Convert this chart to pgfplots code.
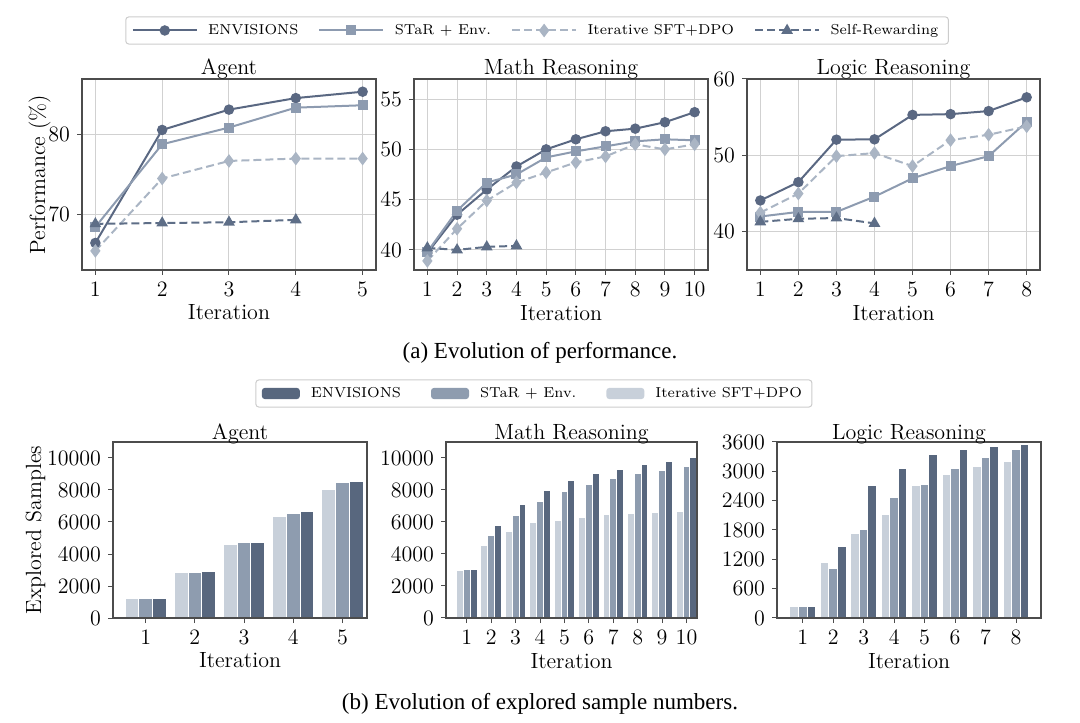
\documentclass[border=0pt]{standalone}
\usepackage{pgfplots}
\pgfplotsset{compat=1.18}
\usepackage{fontspec}
\newfontfamily\capfont{Liberation Serif}

\definecolor{cEnv}{HTML}{5A6882}
\definecolor{cStar}{HTML}{8D9BB0}
\definecolor{cSft}{HTML}{AAB5C4}
\definecolor{cSelf}{HTML}{5E6E87}
\definecolor{bEnv}{HTML}{58677E}
\definecolor{bStar}{HTML}{8E9CAF}
\definecolor{bSft}{HTML}{C8D0DA}

\pgfplotsset{
  common/.style={
    scale only axis, anchor=south west,
    axis line style={draw=black!70, line width=0.6pt},
    tick align=outside, xtick pos=left, ytick pos=left,
    major tick length=2.5pt,
    tick style={draw=black!70, line width=0.5pt},
    xlabel=Iteration,
    font=\fontsize{11}{13}\selectfont,
    tick label style={font=\fontsize{11}{13}\selectfont},
    title style={font=\fontsize{11}{13}\selectfont, yshift=-9.5pt},
    /pgf/number format/assume math mode=true,
    /pgf/number format/1000 sep={},
    scaled y ticks=false,
    xlabel style={yshift=3pt},
    ylabel style={yshift=-2pt},
  },
  topax/.style={common, grid=major,
    major grid style={draw=black!18, line width=0.5pt}},
  barax/.style={common, ymin=0, axis on top, title style={yshift=-1pt}},
  env/.style={color=cEnv, line width=1pt, mark=*, mark size=2.1pt, mark options={solid}},
  star/.style={color=cStar, line width=1pt, mark=square*, mark size=2pt, mark options={solid}},
  sft/.style={color=cSft, line width=1pt, dash pattern=on 4pt off 2pt, mark=diamond*, mark size=2.6pt, mark options={solid}},
  self/.style={color=cSelf, line width=1pt, dash pattern=on 4pt off 2pt, mark=triangle*, mark size=2.4pt, mark options={solid}},
  lgd/.style={
    legend cell align=left,
    legend style={draw=black!20, rounded corners=1.5pt, line width=0.5pt,
      font=\fontsize{7.2}{9}\selectfont, anchor=center,
      inner xsep=3pt, inner ysep=1.5pt},
  },
  linelegend/.style={legend image code/.code={%
    \draw[mark repeat=2, mark phase=2, ##1] plot coordinates {(0pt,0pt) (16pt,0pt) (32pt,0pt)};}},
  barlegend/.style={legend image code/.code={%
    \fill[##1, draw=none] (0pt,-2.8pt) rectangle (19pt,2.8pt);}},
  benv/.style={ybar, bar width=0.28, bar shift=0.28, fill=bEnv, draw=white, line width=0.5pt},
  bstar/.style={ybar, bar width=0.28, bar shift=0, fill=bStar, draw=white, line width=0.5pt},
  bsft/.style={ybar, bar width=0.28, bar shift=-0.28, fill=bSft, draw=white, line width=0.5pt},
}

\begin{document}
\begin{tikzpicture}
\path[use as bounding box] (0,0) rectangle (540pt,361pt);

% ---------------- Top row ----------------
\begin{axis}[topax, lgd, linelegend, at={(41pt,226pt)}, width=147pt, height=95.5pt,
  title=Agent, ylabel={Performance (\%)}, ylabel style={yshift=-6pt},
  xmin=0.8, xmax=5.2, ymin=63, ymax=87, xtick={1,...,5}, ytick={70,80},
  legend columns=4, legend style={at={(1.548,1.254)},
    /tikz/every odd column/.append style={column sep=3.2pt},
    /tikz/every even column/.append style={column sep=8pt}}]
\addplot[env] coordinates {(1,66.4) (2,80.6) (3,83.15) (4,84.6) (5,85.4)};
\addlegendentry{ENVISIONS}
\addplot[star] coordinates {(1,68.4) (2,78.8) (3,80.9) (4,83.4) (5,83.7)};
\addlegendentry{STaR + Env.}
\addplot[sft] coordinates {(1,65.4) (2,74.5) (3,76.7) (4,77.0) (5,77.0)};
\addlegendentry{Iterative SFT+DPO}
\addplot[self] coordinates {(1,68.8) (2,68.9) (3,69.0) (4,69.3)};
\addlegendentry{Self-Rewarding}
\end{axis}

\begin{axis}[topax, at={(207pt,226pt)}, width=147pt, height=95.5pt,
  title=Math Reasoning,
  xmin=0.55, xmax=10.45, ymin=38, ymax=57, xtick={1,...,10}, ytick={40,45,50,55}]
\addplot[env] coordinates {(1,39.7) (2,43.5) (3,46.0) (4,48.3) (5,50.0) (6,51.0) (7,51.8) (8,52.06) (9,52.7) (10,53.7)};
\addplot[star] coordinates {(1,39.8) (2,43.9) (3,46.7) (4,47.5) (5,49.2) (6,49.8) (7,50.3) (8,50.8) (9,51.0) (10,50.9)};
\addplot[sft] coordinates {(1,38.9) (2,42.1) (3,44.9) (4,46.7) (5,47.7) (6,48.7) (7,49.3) (8,50.5) (9,50.0) (10,50.5)};
\addplot[self] coordinates {(1,40.2) (2,40.0) (3,40.3) (4,40.4)};
\end{axis}

\begin{axis}[topax, at={(373.5pt,226pt)}, width=146.5pt, height=95.5pt,
  title=Logic Reasoning,
  xmin=0.65, xmax=8.35, ymin=35, ymax=60, xtick={1,...,8}, ytick={40,50,60}]
\addplot[env] coordinates {(1,44.1) (2,46.5) (3,52.06) (4,52.1) (5,55.3) (6,55.4) (7,55.8) (8,57.6)};
\addplot[star] coordinates {(1,42.0) (2,42.6) (3,42.6) (4,44.6) (5,47.0) (6,48.6) (7,49.9) (8,54.4)};
\addplot[sft] coordinates {(1,42.5) (2,45.0) (3,49.9) (4,50.3) (5,48.6) (6,52.0) (7,52.7) (8,53.8)};
\addplot[self] coordinates {(1,41.3) (2,41.7) (3,41.8) (4,41.1)};
\end{axis}

\node[font=\capfont\fontsize{11.5}{13}\selectfont] at (270pt,184.5pt) {(a) Evolution of performance.};

% ---------------- Bottom row ----------------
\begin{axis}[barax, lgd, barlegend, at={(56.5pt,52pt)}, width=127pt, height=88pt,
  title=Agent, ylabel={Explored Samples}, ylabel style={yshift=-4pt},
  xmin=0.335, xmax=5.5, ymax=11000, xtick={1,...,5}, ytick={0,2000,...,10000},
  legend columns=3, legend style={at={(1.657,1.2756)},
    /tikz/every odd column/.append style={column sep=3.5pt},
    /tikz/every even column/.append style={column sep=13pt}}]
\addplot[benv] coordinates {(1,1250) (2,2920) (3,4750) (4,6625) (5,8540)};
\addlegendentry{ENVISIONS}
\addplot[bstar] coordinates {(1,1250) (2,2875) (3,4710) (4,6520) (5,8440)};
\addlegendentry{STaR + Env.}
\addplot[bsft] coordinates {(1,1250) (2,2850) (3,4580) (4,6330) (5,8060)};
\addlegendentry{Iterative SFT+DPO}
\end{axis}

\begin{axis}[barax, at={(223pt,52pt)}, width=125.5pt, height=88pt,
  title=Math Reasoning,
  xmin=0.15, xmax=10.43, ymax=11000, xtick={1,...,10}, ytick={0,2000,...,10000}]
\addplot[benv] coordinates {(1,3000) (2,5770) (3,7080) (4,7980) (5,8600) (6,9020) (7,9290) (8,9580) (9,9750) (10,10020)};
\addplot[bstar] coordinates {(1,3000) (2,5170) (3,6400) (4,7290) (5,7920) (6,8350) (7,8710) (8,9020) (9,9230) (10,9440)};
\addplot[bsft] coordinates {(1,2980) (2,4520) (3,5420) (4,5940) (5,6100) (6,6290) (7,6440) (8,6520) (9,6600) (10,6625)};
\end{axis}

\begin{axis}[barax, at={(388.5pt,52pt)}, width=132pt, height=88pt,
  title=Logic Reasoning,
  xmin=0.155, xmax=8.82, ymax=3600, xtick={1,...,8}, ytick={0,600,...,3600}]
\addplot[benv] coordinates {(1,240) (2,1466) (3,2700) (4,3068) (5,3341) (6,3450) (7,3511) (8,3552)};
\addplot[bstar] coordinates {(1,240) (2,1016) (3,1814) (4,2468) (5,2734) (6,3055) (7,3273) (8,3443)};
\addplot[bsft] coordinates {(1,240) (2,1132) (3,1725) (4,2107) (5,2700) (6,2939) (7,3089) (8,3191)};
\end{axis}

\node[font=\capfont\fontsize{11.5}{13}\selectfont] at (270pt,9pt) {(b) Evolution of explored sample numbers.};
\end{tikzpicture}
\end{document}
